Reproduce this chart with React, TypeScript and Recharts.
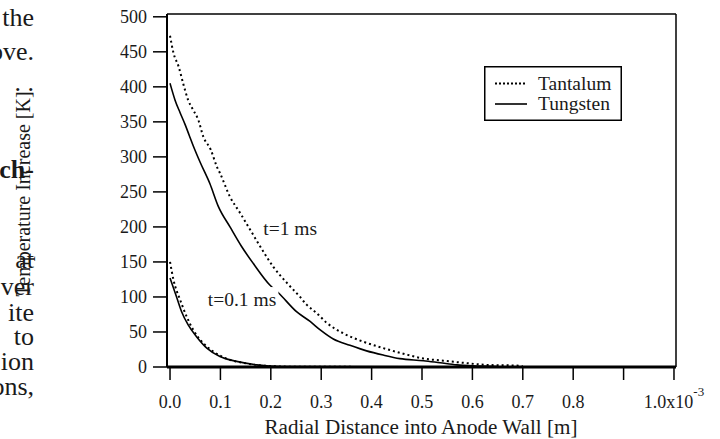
import { LineChart, Line, XAxis, YAxis, ReferenceLine, ReferenceDot } from 'recharts';

// radial distance [x1e-3 m], temperature increase [K]
const tantalum1ms: [number, number][] = [
  [0, 473], [0.007, 448], [0.017, 429], [0.026, 405], [0.036, 381], [0.046, 367], [0.056, 353],
  [0.066, 329], [0.081, 310], [0.093, 286], [0.099, 277], [0.119, 243], [0.139, 220], [0.159, 196],
  [0.179, 172], [0.205, 143], [0.232, 120], [0.258, 100], [0.271, 89], [0.291, 77], [0.311, 63],
  [0.344, 48], [0.384, 36], [0.423, 27], [0.463, 19], [0.503, 12], [0.542, 9], [0.582, 6],
  [0.628, 3], [0.688, 2], [0.7, 1],
];
const tungsten1ms: [number, number][] = [
  [0, 405], [0.01, 381], [0.02, 363], [0.03, 346], [0.038, 331], [0.046, 316], [0.06, 292],
  [0.079, 262], [0.096, 229], [0.119, 200], [0.142, 172], [0.165, 148], [0.198, 117], [0.215, 106],
  [0.251, 79], [0.278, 65], [0.298, 53], [0.324, 40], [0.357, 31], [0.39, 23], [0.423, 17],
  [0.456, 12], [0.503, 9], [0.536, 6], [0.569, 3], [0.615, 1.5], [0.65, 0.5],
];
const tantalum01ms: [number, number][] = [
  [0, 150], [0.007, 124], [0.02, 96], [0.033, 72], [0.046, 53], [0.066, 34], [0.086, 22],
  [0.112, 12], [0.145, 6], [0.185, 2], [0.25, 0.3], [0.7, 0],
];
const tungsten01ms: [number, number][] = [
  [0, 127], [0.013, 100], [0.023, 79], [0.036, 60], [0.053, 43], [0.073, 27], [0.099, 15],
  [0.132, 8], [0.172, 3], [0.22, 0.5], [0.7, 0],
];

const yTicks = [0, 50, 100, 150, 200, 250, 300, 350, 400, 450, 500];
const xTicks = [0, 0.1, 0.2, 0.3, 0.4, 0.5, 0.6, 0.7, 0.8, 0.9, 1.0];
const xTickLabels = ['0.0', '0.1', '0.2', '0.3', '0.4', '0.5', '0.6', '0.7', '0.8', '', '1.0x10'];
const legendNames = ['Tantalum', 'Tungsten'];
const curveLabels = ['t=1 ms', 't=0.1 ms'];
const curveLabelX = [0.185, 0.075];
const curveLabelY = [199, 97];

// bits of the surrounding page text that show at the left edge
const pageFragments = ['the', 'ove.', '. .', 'ch-', 'at', 'ver', 'ite', 'to', 'ion', 'ons,'];
const pageFragmentTop = [18, 52, 83, 170, 260, 287, 313, 337, 362, 387];

const SERIF = '"Liberation Serif", "Times New Roman", serif';
const INK = '#1a1a1a';

const toPoints = (arr: [number, number][]) => arr.map(([x, y]) => ({ x, y }));

function XTick(props: any) {
  const { x, y, payload, index } = props;
  const i = index ?? xTicks.indexOf(payload.value);
  const text = xTickLabels[i] ?? '';
  if (!text) return null;
  return (
    <text x={x} y={y + 28} textAnchor="middle" fontFamily={SERIF} fontSize={18} fill={INK}>
      {text}
      {i === xTicks.length - 1 && (
        <tspan fontSize={13} dy={-12}>-3</tspan>
      )}
    </text>
  );
}

function CurveLabel(text: string) {
  return (props: any) => {
    const { cx, cy } = props;
    const w = text.length * 8.7 + 4;
    return (
      <g>
        <rect x={cx - 3} y={cy - 12} width={w} height={24} fill="#fff" />
        <text x={cx} y={cy + 7} fontFamily={SERIF} fontSize={19.5} fill={INK}>{text}</text>
      </g>
    );
  };
}

function LegendBox() {
  return (
    <svg width={138} height={55} style={{ position: 'absolute', left: 484, top: 66 }}>
      <rect x={0.75} y={0.75} width={136.5} height={53.5} fill="#fff" stroke="#000" strokeWidth={1.5} />
      {legendNames.map((name, i) => {
        const cy = 17.5 + i * 20.5;
        return (
          <g key={name}>
            <line x1={11} x2={43} y1={cy} y2={cy} stroke="#000"
              strokeWidth={i === 0 ? 2 : 1.6} strokeDasharray={i === 0 ? '2 2' : undefined} />
            <text x={54} y={cy + 6} fontFamily={SERIF} fontSize={19.5} fill={INK}>{name}</text>
          </g>
        );
      })}
    </svg>
  );
}

export default function App() {
  return (
    <div style={{ position: 'absolute', left: 0, top: 0, width: 720, height: 439, background: '#fff', overflow: 'hidden' }}>
      {pageFragments.map((t, i) => (
        <div key={i} style={{
          position: 'absolute', left: -100, width: 134, top: pageFragmentTop[i] - 12, textAlign: 'right',
          fontFamily: SERIF, fontSize: 26, lineHeight: '24px', color: INK, fontWeight: t === 'ch-' ? 'bold' : 'normal',
        }}>{t}</div>
      ))}
      <div style={{ position: 'absolute', left: 0, top: 0 }}>
        <LineChart width={720} height={439} margin={{ top: 14, right: 44, bottom: 0, left: 107 }}>
          <XAxis
            type="number" dataKey="x" domain={[-0.006, 1.004]} allowDataOverflow ticks={xTicks} interval={0}
            height={72} tickSize={13} tickMargin={0} tick={<XTick />}
            axisLine={{ stroke: '#000', strokeWidth: 3 }} tickLine={{ stroke: '#000', strokeWidth: 1.5 }}
            label={() => (
              <text x={421} y={434} textAnchor="middle" fontFamily={SERIF} fontSize={20} fill={INK}
                textLength={313} lengthAdjust="spacingAndGlyphs">Radial Distance into Anode Wall [m]</text>
            )}
          />
          <YAxis
            type="number" domain={[0, 504]} allowDataOverflow ticks={yTicks} interval={0}
            width={60} tickSize={14} tickMargin={6}
            tick={{ fontSize: 18, fill: INK, fontFamily: SERIF }}
            axisLine={{ stroke: '#000', strokeWidth: 2 }} tickLine={{ stroke: '#000', strokeWidth: 1.5 }}
            label={() => (
              <text x={24} y={194} dy={6} transform="rotate(-90 24 194)" textAnchor="middle" fontFamily={SERIF}
                fontSize={20} fill={INK}>Temperature Increase [K]</text>
            )}
          />
          <ReferenceLine y={504} stroke="#000" strokeWidth={1.5} />
          <ReferenceLine x={1.004} stroke="#000" strokeWidth={1.5} />
          <Line data={toPoints(tantalum1ms)} dataKey="y" type="monotone" stroke="#000" strokeWidth={2}
            strokeDasharray="2 3" dot={false} isAnimationActive={false} />
          <Line data={toPoints(tungsten1ms)} dataKey="y" type="monotone" stroke="#000" strokeWidth={1.6}
            dot={false} isAnimationActive={false} />
          <Line data={toPoints(tantalum01ms)} dataKey="y" type="monotone" stroke="#000" strokeWidth={2}
            strokeDasharray="2 3" dot={false} isAnimationActive={false} />
          <Line data={toPoints(tungsten01ms)} dataKey="y" type="monotone" stroke="#000" strokeWidth={1.6}
            dot={false} isAnimationActive={false} />
          {curveLabels.map((t, i) => (
            <ReferenceDot key={t} x={curveLabelX[i]} y={curveLabelY[i]} r={0} shape={CurveLabel(t)} />
          ))}
        </LineChart>
      </div>
      <LegendBox />
    </div>
  );
}
